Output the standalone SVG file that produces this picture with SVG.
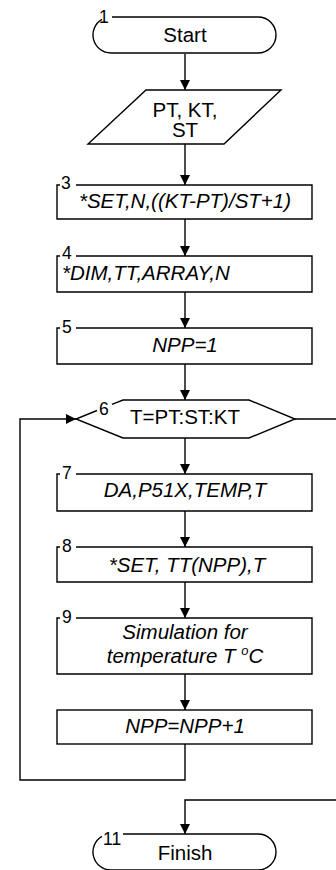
<svg xmlns="http://www.w3.org/2000/svg" width="336" height="870" viewBox="0 0 336 870">
<defs>
<style>
.s{fill:none;stroke:#000;stroke-width:1.4}
.t{font-family:"Liberation Sans",Arial,sans-serif;font-size:20.5px;fill:#000}
.i{font-style:italic}
.m{text-anchor:middle}
.n{font-family:"Liberation Sans",Arial,sans-serif;font-size:17.5px;fill:#000}
</style>
<marker id="ah" markerUnits="userSpaceOnUse" markerWidth="10" markerHeight="10" refX="10" refY="5" orient="auto">
<path d="M0,0 L10,5 L0,10 z" fill="#000"/>
</marker>
</defs>
<rect width="336" height="870" fill="#fff"/>
<g id="connectors" class="s" marker-end="url(#ah)">
<path d="M185 54 V90"/>
<path d="M185 144 V185"/>
<path d="M185 219 V256"/>
<path d="M185 292 V328"/>
<path d="M185 364 V400"/>
<path d="M185 438 V474"/>
<path d="M185 511 V547"/>
<path d="M185 582 V618"/>
<path d="M185 674 V710"/>
<path d="M185 744 V780 H20 V419 H76"/>
<path d="M295 419 H339 V800 H185 V834"/>
</g>
<g id="n1">
<path class="s" d="M112 17 H258 A18 18 0 0 1 258 53 H111 A18 18 0 0 1 102 19.4"/>
<text class="n" x="99" y="23">1</text>
<text class="t m" x="185" y="42">Start</text>
</g>
<g id="n2">
<path class="s" d="M146 90 H281 L224 144 H88 Z"/>
<text class="t m" x="185" y="117">PT, KT,</text>
<text class="t m" x="185" y="137">ST</text>
</g>
<g id="n3">
<path class="s" d="M60 185 H57 V219 H312 V185 H76"/>
<text class="n" x="61" y="189">3</text>
<text class="t i m" x="185" y="208">*SET,N,((KT-PT)/ST+1)</text>
</g>
<g id="n4">
<path class="s" d="M60 256 H57 V292 H312 V256 H76"/>
<text class="n" x="62" y="259">4</text>
<text class="t i" x="62" y="280">*DIM,TT,ARRAY,N</text>
</g>
<g id="n5">
<path class="s" d="M60 328 H57 V364 H312 V328 H76"/>
<text class="n" x="62" y="333">5</text>
<text class="t i m" x="185" y="352">NPP=1</text>
</g>
<g id="n6">
<path class="s" d="M97 410.5 L76 419 L123 438 H249 L295 419 L249 400 H123 L112 404.4"/>
<text class="n" x="99" y="415">6</text>
<text class="t m" x="185" y="424">T=PT:ST:KT</text>
</g>
<g id="n7">
<path class="s" d="M60 474 H57 V511 H312 V474 H76"/>
<text class="n" x="62" y="479">7</text>
<text class="t i m" x="185" y="497">DA,P51X,TEMP,T</text>
</g>
<g id="n8">
<path class="s" d="M60 547 H57 V582 H312 V547 H76"/>
<text class="n" x="62" y="552">8</text>
<text class="t i m" x="187" y="572">*SET, TT(NPP),T</text>
</g>
<g id="n9">
<path class="s" d="M60 618 H57 V674 H312 V618 H76"/>
<text class="n" x="62" y="623">9</text>
<text class="t i m" x="185" y="639">Simulation for</text>
<text class="t i m" x="185" y="663">temperature T <tspan font-size="13" dy="-8">o</tspan><tspan dy="8">C</tspan></text>
</g>
<g id="n10">
<rect class="s" x="57" y="710" width="255" height="34"/>
<text class="t i m" x="185" y="733">NPP=NPP+1</text>
</g>
<g id="n11">
<path class="s" d="M123 834 H258 A18 18 0 0 1 258 870 H111 A18 18 0 0 1 102 836.4"/>
<text class="n" x="103" y="845">11</text>
<text class="t m" x="185" y="860">Finish</text>
</g>
</svg>
